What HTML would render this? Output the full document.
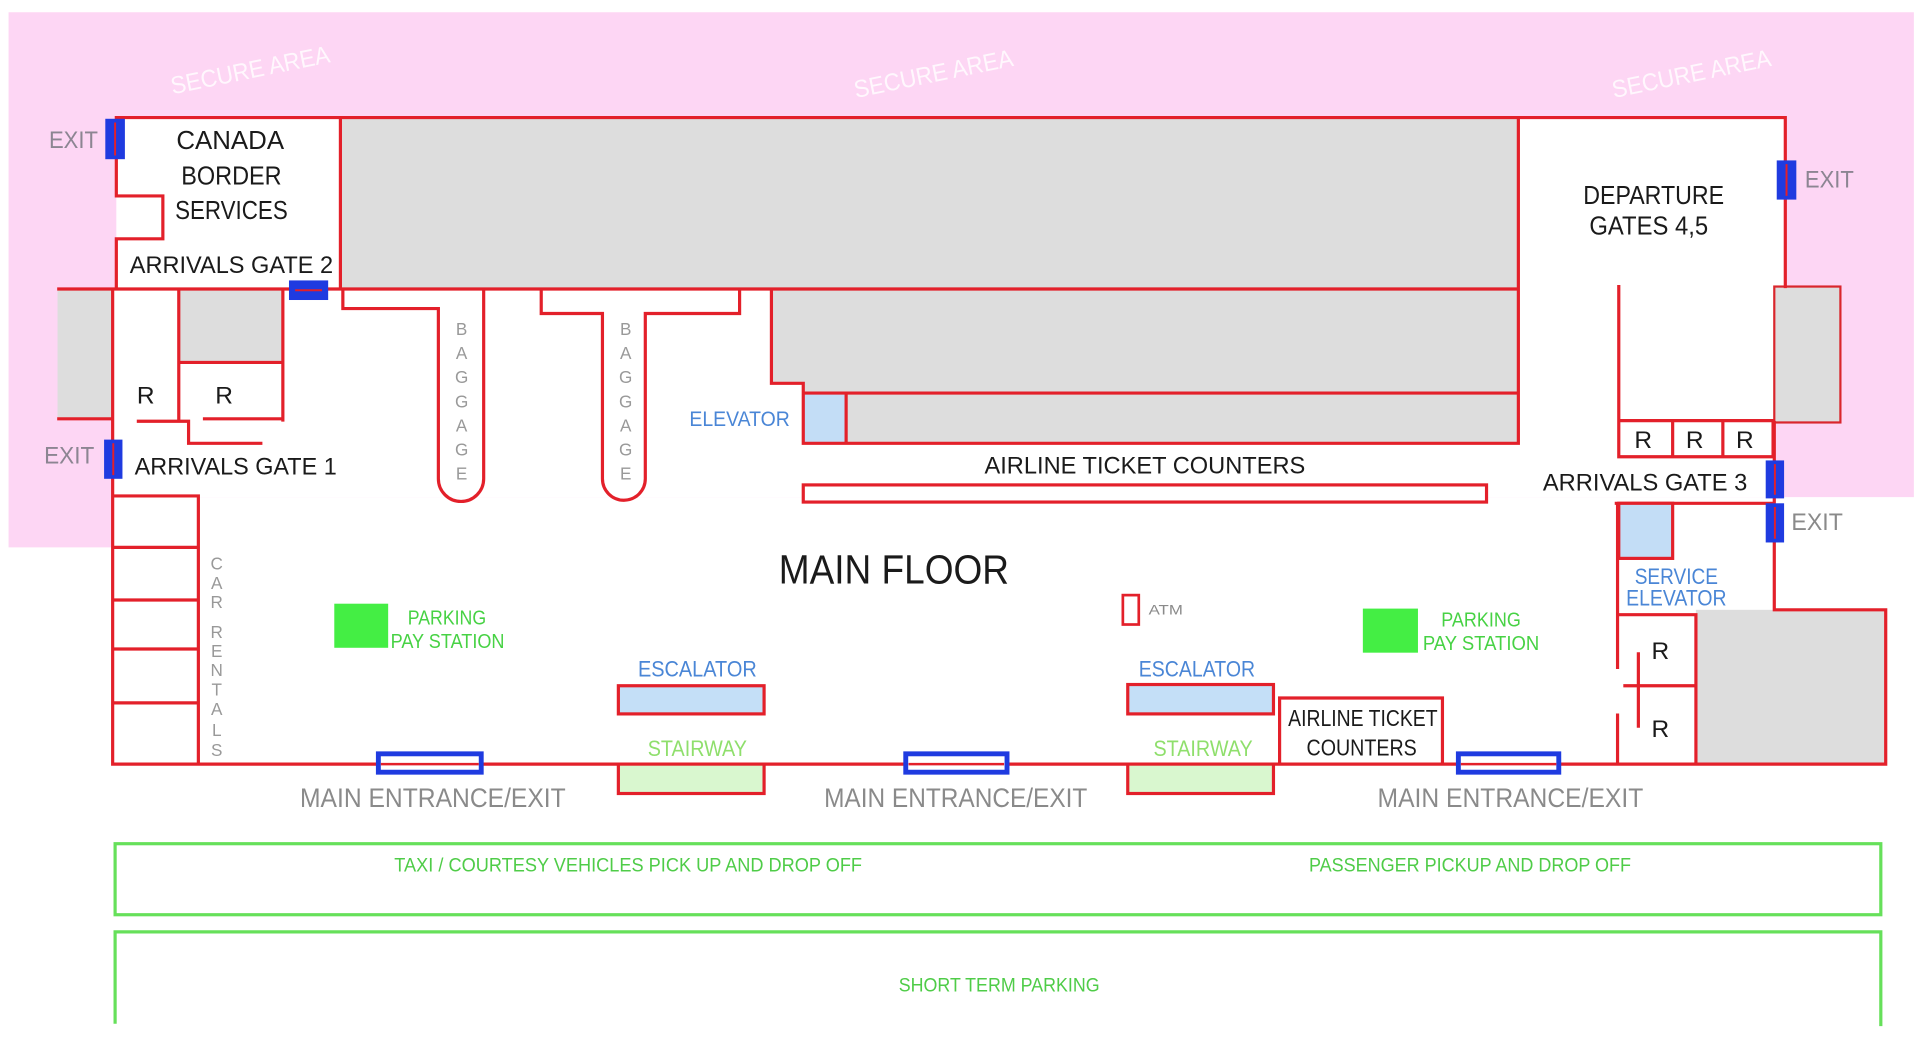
<!DOCTYPE html>
<html>
<head>
<meta charset="utf-8">
<style>
html,body{margin:0;padding:0;background:#fff;}
svg{display:block;}
text{font-family:"Liberation Sans",sans-serif;}
</style>
</head>
<body>
<svg width="1920" height="1046" viewBox="0 0 1568 854.2" preserveAspectRatio="none" xmlns="http://www.w3.org/2000/svg">
<rect x="0" y="0" width="1568" height="854.2" fill="#ffffff"/>
<!-- pink secure area -->
<polygon points="7,10 1563,10 1563,406 92,406 92,447 7,447" fill="#fdd6f4"/>
<!-- secure area labels -->
<g fill="#ffffff" fill-opacity="0.8" font-size="20">
<text x="0" y="0" transform="translate(141,77) rotate(-11.5)" textLength="132" lengthAdjust="spacingAndGlyphs">SECURE AREA</text>
<text x="0" y="0" transform="translate(699,80) rotate(-11.5)" textLength="132" lengthAdjust="spacingAndGlyphs">SECURE AREA</text>
<text x="0" y="0" transform="translate(1318,80) rotate(-11.5)" textLength="132" lengthAdjust="spacingAndGlyphs">SECURE AREA</text>
</g>
<!-- building interior -->
<polygon points="95,96 1458,96 1458,234 1449,234 1449,406 92,406 92,236 95,236" fill="#ffffff"/>
<!-- gray areas -->
<g fill="#dddddd">
<rect x="279" y="97" width="961" height="139"/>
<polygon points="630,236 1240,236 1240,321 656,321 656,313 630,313"/>
<rect x="691" y="321" width="549" height="41"/>
<rect x="147" y="237" width="84" height="59"/>
<rect x="47" y="236" width="45" height="106"/>
<rect x="1385" y="498" width="155" height="126"/>
</g>
<rect x="1449" y="234" width="54" height="111" fill="#dddddd" stroke="#d9262c" stroke-width="1.8"/>
<!-- elevator -->
<rect x="656" y="321" width="35" height="41" fill="#c3ddf6"/>
<!-- red walls -->
<path fill="none" stroke="#e3202a" stroke-width="2.6" stroke-linecap="square" d="
M95,96 H1458 V234
M95,96 V160 H133 V195 H95 V236
M278,96 V236
M48,236 H1240
M1240,96 V362
M48,342 H92
M92,236 V624
M146,236 V344
M147,296 H231
M231,236 V343
M113,344 H154 V362 H213
M167,342 H231
M280,236 V252 H358 V391 A18.5,18.5 0 0 0 395,391 V236
M442,236 V256 H492 V391 A17.5,17.5 0 0 0 527,391 V256 H604 V236
M630,236 V313 H656 V362 H1240
M656,321 H1240
M691,321 V362
M1322,234 V373
M1322,343.5 H1448 M1322,373 H1448 M1366,343.5 V373 M1407,343.5 V373 M1448,343.5 V373
M1320,411 H1449
M1449,345 V498 H1540 V624
M1321,411 V545 M1321,584 V624
M1321,502 H1385 V624
M1327,560 H1385
M1338,534 V593
M92,624 H1540
M92,405 H162 V624 M92,447 H162 M92,490 H162 M92,530 H162 M92,574 H162
M1045,624 V570 H1178 V624
"/>
<!-- airline counter bar -->
<rect x="656" y="396" width="558" height="14" fill="#ffffff" stroke="#e3202a" stroke-width="2.6"/>
<!-- service elevator -->
<rect x="1322" y="411" width="44" height="45" fill="#c3ddf6" stroke="#e3202a" stroke-width="2.6"/>
<!-- escalators & stairways -->
<g stroke="#e3202a" stroke-width="2.6">
<rect x="505" y="560" width="119" height="23" fill="#c4dff7"/>
<rect x="921" y="559" width="119" height="24" fill="#c4dff7"/>
<rect x="505" y="624" width="119" height="24" fill="#d9f7cf"/>
<rect x="921" y="624" width="119" height="24" fill="#d9f7cf"/>
<rect x="917" y="486" width="13" height="24" fill="#ffffff" stroke-width="2.2"/>
</g>
<!-- exits -->
<g fill="#1f3be0">
<rect x="86" y="97" width="16" height="33"/>
<rect x="85" y="359" width="15" height="32"/>
<rect x="1451" y="131" width="16" height="32"/>
<rect x="1442" y="376" width="15" height="31"/>
<rect x="1442" y="411" width="15" height="32"/>
<rect x="236" y="229" width="32" height="16"/>
</g>
<g stroke="#e3202a" stroke-width="1.6">
<path d="M94,100 V127 M92.5,362 V388 M1459,134 V160 M1449.5,379 V404 M1449.5,414 V440 M241,237 H263"/>
</g>
<!-- main entrances -->
<g fill="#ffffff" stroke="#1f3be0" stroke-width="4">
<rect x="309" y="615.6" width="84" height="15"/>
<rect x="739.7" y="615.6" width="82.7" height="15"/>
<rect x="1191" y="615.6" width="82" height="15"/>
</g>
<g stroke="#e3202a" stroke-width="2">
<path d="M311,624 H391 M742,624 H820 M1193,624 H1271"/>
</g>
<!-- parking pay stations -->
<rect x="273" y="493" width="44" height="36" fill="#44ee44"/>
<rect x="1113" y="497" width="45" height="36" fill="#44ee44"/>
<!-- green road rects -->
<g fill="none" stroke="#66e05a" stroke-width="2.6">
<rect x="94" y="689" width="1442" height="58"/>
<path d="M94,836 V761 H1536 V838"/>
</g>

<!-- black labels -->
<g fill="#1a1a1a">
<text x="144" y="121.5" font-size="21" textLength="88" lengthAdjust="spacingAndGlyphs">CANADA</text>
<text x="148" y="150.5" font-size="21" textLength="82" lengthAdjust="spacingAndGlyphs">BORDER</text>
<text x="143" y="179" font-size="21" textLength="92" lengthAdjust="spacingAndGlyphs">SERVICES</text>
<text x="106" y="223" font-size="20" textLength="166" lengthAdjust="spacingAndGlyphs">ARRIVALS GATE 2</text>
<text x="110" y="387.5" font-size="20" textLength="165" lengthAdjust="spacingAndGlyphs">ARRIVALS GATE 1</text>
<text x="804" y="386.5" font-size="20" textLength="262" lengthAdjust="spacingAndGlyphs">AIRLINE TICKET COUNTERS</text>
<text x="1293" y="166.5" font-size="21" textLength="115" lengthAdjust="spacingAndGlyphs">DEPARTURE</text>
<text x="1298" y="191.5" font-size="21" textLength="97" lengthAdjust="spacingAndGlyphs">GATES 4,5</text>
<text x="1260" y="400.5" font-size="20" textLength="167" lengthAdjust="spacingAndGlyphs">ARRIVALS GATE 3</text>
<text x="636" y="476.5" font-size="33" textLength="188" lengthAdjust="spacingAndGlyphs">MAIN FLOOR</text>
<text x="1052" y="593" font-size="19" textLength="122" lengthAdjust="spacingAndGlyphs">AIRLINE TICKET</text>
<text x="1067" y="617" font-size="19" textLength="90" lengthAdjust="spacingAndGlyphs">COUNTERS</text>
<g font-size="20" text-anchor="middle">
<text x="119" y="329.5">R</text>
<text x="183" y="329.5">R</text>
<text x="1342" y="366">R</text>
<text x="1384" y="366">R</text>
<text x="1425" y="366">R</text>
<text x="1356" y="538">R</text>
<text x="1356" y="602">R</text>
</g>
</g>

<!-- gray labels -->
<g fill="#8c8592" font-size="20">
<text x="40" y="121" textLength="40" lengthAdjust="spacingAndGlyphs">EXIT</text>
<text x="36" y="378.5" textLength="41" lengthAdjust="spacingAndGlyphs">EXIT</text>
<text x="1474" y="153" textLength="40" lengthAdjust="spacingAndGlyphs">EXIT</text>
</g>
<g fill="#8a8a8a">
<text x="1463" y="433" font-size="20" textLength="42" lengthAdjust="spacingAndGlyphs">EXIT</text>
<text x="245" y="659" font-size="22" textLength="217" lengthAdjust="spacingAndGlyphs">MAIN ENTRANCE/EXIT</text>
<text x="673" y="659" font-size="22" textLength="215" lengthAdjust="spacingAndGlyphs">MAIN ENTRANCE/EXIT</text>
<text x="1125" y="659" font-size="22" textLength="217" lengthAdjust="spacingAndGlyphs">MAIN ENTRANCE/EXIT</text>
<text x="938" y="502" font-size="11" textLength="28" lengthAdjust="spacingAndGlyphs">ATM</text>
</g>
<g fill="#999999" font-size="14" text-anchor="middle">
<text x="377" y="273.5">B</text><text x="377" y="293.2">A</text><text x="377" y="312.9">G</text><text x="377" y="332.6">G</text><text x="377" y="352.3">A</text><text x="377" y="372">G</text><text x="377" y="391.7">E</text>
<text x="511" y="273.5">B</text><text x="511" y="293.2">A</text><text x="511" y="312.9">G</text><text x="511" y="332.6">G</text><text x="511" y="352.3">A</text><text x="511" y="372">G</text><text x="511" y="391.7">E</text>
<text x="177" y="465">C</text><text x="177" y="481">A</text><text x="177" y="496.5">R</text>
<text x="177" y="521">R</text><text x="177" y="536.5">E</text><text x="177" y="552">N</text><text x="177" y="568">T</text><text x="177" y="584">A</text><text x="177" y="601">L</text><text x="177" y="617.5">S</text>
</g>

<!-- blue labels -->
<g fill="#4a86d6">
<text x="563" y="348" font-size="17" textLength="82" lengthAdjust="spacingAndGlyphs">ELEVATOR</text>
<text x="521" y="552.5" font-size="18" textLength="97" lengthAdjust="spacingAndGlyphs">ESCALATOR</text>
<text x="930" y="552.5" font-size="18" textLength="95" lengthAdjust="spacingAndGlyphs">ESCALATOR</text>
<text x="1335" y="477" font-size="18" textLength="68" lengthAdjust="spacingAndGlyphs">SERVICE</text>
<text x="1328" y="494.5" font-size="18" textLength="82" lengthAdjust="spacingAndGlyphs">ELEVATOR</text>
</g>

<!-- green labels -->
<g fill="#8fdf6c">
<text x="529" y="617.5" font-size="18" textLength="81" lengthAdjust="spacingAndGlyphs">STAIRWAY</text>
<text x="942" y="617.5" font-size="18" textLength="81" lengthAdjust="spacingAndGlyphs">STAIRWAY</text>
</g>
<g fill="#47d244">
<text x="333" y="510" font-size="16.5" textLength="64" lengthAdjust="spacingAndGlyphs">PARKING</text>
<text x="319" y="529" font-size="16.5" textLength="93" lengthAdjust="spacingAndGlyphs">PAY STATION</text>
<text x="1177" y="511.5" font-size="16.5" textLength="65" lengthAdjust="spacingAndGlyphs">PARKING</text>
<text x="1162" y="531" font-size="16.5" textLength="95" lengthAdjust="spacingAndGlyphs">PAY STATION</text>
</g>
<g fill="#4fcc48" font-size="16">
<text x="322" y="711.5" textLength="382" lengthAdjust="spacingAndGlyphs">TAXI / COURTESY VEHICLES  PICK UP AND DROP OFF</text>
<text x="1069" y="711.5" textLength="263" lengthAdjust="spacingAndGlyphs">PASSENGER PICKUP AND DROP OFF</text>
<text x="734" y="809.5" textLength="164" lengthAdjust="spacingAndGlyphs">SHORT TERM PARKING</text>
</g>
</svg>
</body>
</html>
